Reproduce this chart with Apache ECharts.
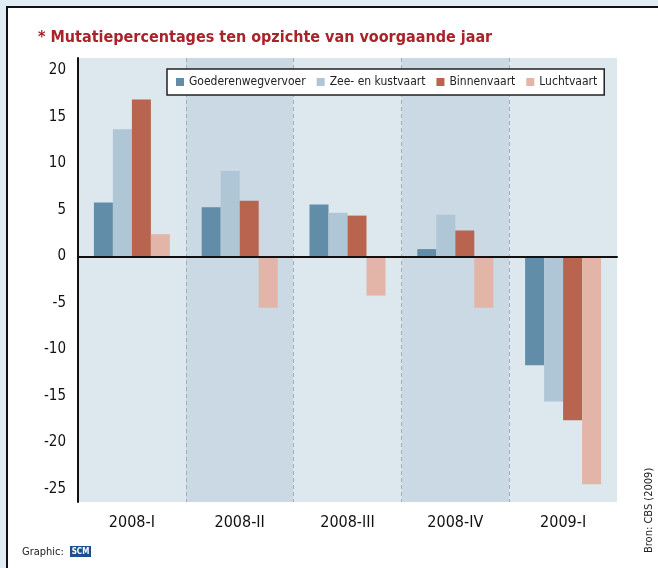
<!DOCTYPE html>
<html>
<head>
<meta charset="utf-8">
<script src="https://cdn.jsdelivr.net/npm/echarts@6/dist/echarts.min.js"></script>
<style>
  html, body { margin: 0; padding: 0; background: #e1edf3; }
  #chart { width: 658px; height: 568px; }
</style>
</head>
<body>
<div id="chart"></div>
<script>
// kwartalen
var categories = ['2008-I', '2008-II', '2008-III', '2008-IV', '2009-I'];
// mutatiepercentages per vervoerswijze
var wegvervoer = [5.8, 5.3, 5.6, 0.8, -11.7];
var zeevaart = [13.7, 9.2, 4.7, 4.5, -15.6];
var binnenvaart = [16.9, 6.0, 4.4, 2.8, -17.6];
var luchtvaart = [2.4, -5.5, -4.2, -5.5, -24.5];
var yTicks = [-25, -20, -15, -10, -5, 0, 5, 10, 15, 20];

var FONT = '"DejaVu Sans Condensed", "Liberation Sans", sans-serif';

var chart = echarts.init(document.getElementById('chart'));

function bar(name, data, color) {
    return {
        name: name,
        type: 'bar',
        data: data,
        barWidth: 19,
        barGap: 0,
        itemStyle: { color: color }
    };
}

var option = {
    backgroundColor: '#e1edf3',
    animation: false,
    textStyle: { fontFamily: FONT },
    graphic: [
        {
            type: 'rect', z: -10, silent: true,
            shape: { x: 7, y: 7, width: 700, height: 620 },
            style: { fill: '#ffffff', stroke: '#111', lineWidth: 2 }
        },
        {
            type: 'text', x: 38, y: 38,
            style: {
                text: '* Mutatiepercentages ten opzichte van voorgaande jaar',
                fill: '#a8232a', font: 'bold 16px ' + FONT,
                textAlign: 'left', textVerticalAlign: 'middle'
            }
        },
        {
            type: 'text', x: 22, y: 552,
            style: {
                text: 'Graphic:', fill: '#222', font: '11px ' + FONT,
                textAlign: 'left', textVerticalAlign: 'middle'
            }
        },
        {
            type: 'rect', silent: true,
            shape: { x: 70, y: 546, width: 21, height: 11 },
            style: { fill: '#1d4f8c' }
        },
        {
            type: 'text', x: 80.5, y: 552,
            style: {
                text: 'SCM', fill: '#fff', font: 'bold 8px ' + FONT,
                textAlign: 'center', textVerticalAlign: 'middle'
            }
        },
        {
            type: 'text', x: 649, y: 553, rotation: Math.PI / 2,
            style: {
                text: 'Bron: CBS (2009)', fill: '#222', font: '11px ' + FONT,
                textAlign: 'left', textVerticalAlign: 'middle'
            }
        }
    ],
    legend: {
        left: 167,
        top: 69,
        backgroundColor: '#fff',
        borderColor: '#222',
        borderWidth: 1.5,
        padding: [7, 7, 7, 9],
        itemWidth: 8,
        itemHeight: 8,
        itemGap: 11,
        icon: 'rect',
        textStyle: { fontSize: 12, color: '#222', fontFamily: FONT },
        data: ['Goederenwegvervoer', 'Zee- en kustvaart', 'Binnenvaart', 'Luchtvaart']
    },
    grid: { left: 78, right: 41, top: 58, bottom: 66, containLabel: false },
    xAxis: [
        {
            type: 'category',
            data: categories,
            position: 'bottom',
            axisLine: { show: false, onZero: false },
            axisTick: { show: false },
            axisLabel: { fontSize: 16, color: '#111', margin: 13, fontFamily: FONT },
            splitArea: { show: true, areaStyle: { color: ['#dce7ee', '#cbd9e4'] } },
            splitLine: {
                show: true, showMinLine: false, showMaxLine: false,
                lineStyle: { color: '#a3adb6', type: [4, 3], width: 1 }
            }
        },
        {
            type: 'category',
            data: categories,
            position: 'bottom',
            z: 10,
            axisLine: { show: true, onZero: true, lineStyle: { color: '#111', width: 2 } },
            axisTick: { show: false },
            axisLabel: { show: false },
            splitLine: { show: false },
            splitArea: { show: false }
        }
    ],
    yAxis: {
        type: 'value',
        min: -26.4,
        max: 21.35,
        z: 10,
        axisLine: { show: true, onZero: false, lineStyle: { color: '#111', width: 2 } },
        axisTick: { show: false },
        splitLine: { show: false },
        axisLabel: {
            customValues: yTicks,
            fontSize: 15, color: '#111', margin: 12, fontFamily: FONT
        }
    },
    series: [
        bar('Goederenwegvervoer', wegvervoer, '#628da8'),
        bar('Zee- en kustvaart', zeevaart, '#aec6d5'),
        bar('Binnenvaart', binnenvaart, '#b8644f'),
        bar('Luchtvaart', luchtvaart, '#e2b5a8')
    ]
};

chart.setOption(option);
</script>
</body>
</html>
